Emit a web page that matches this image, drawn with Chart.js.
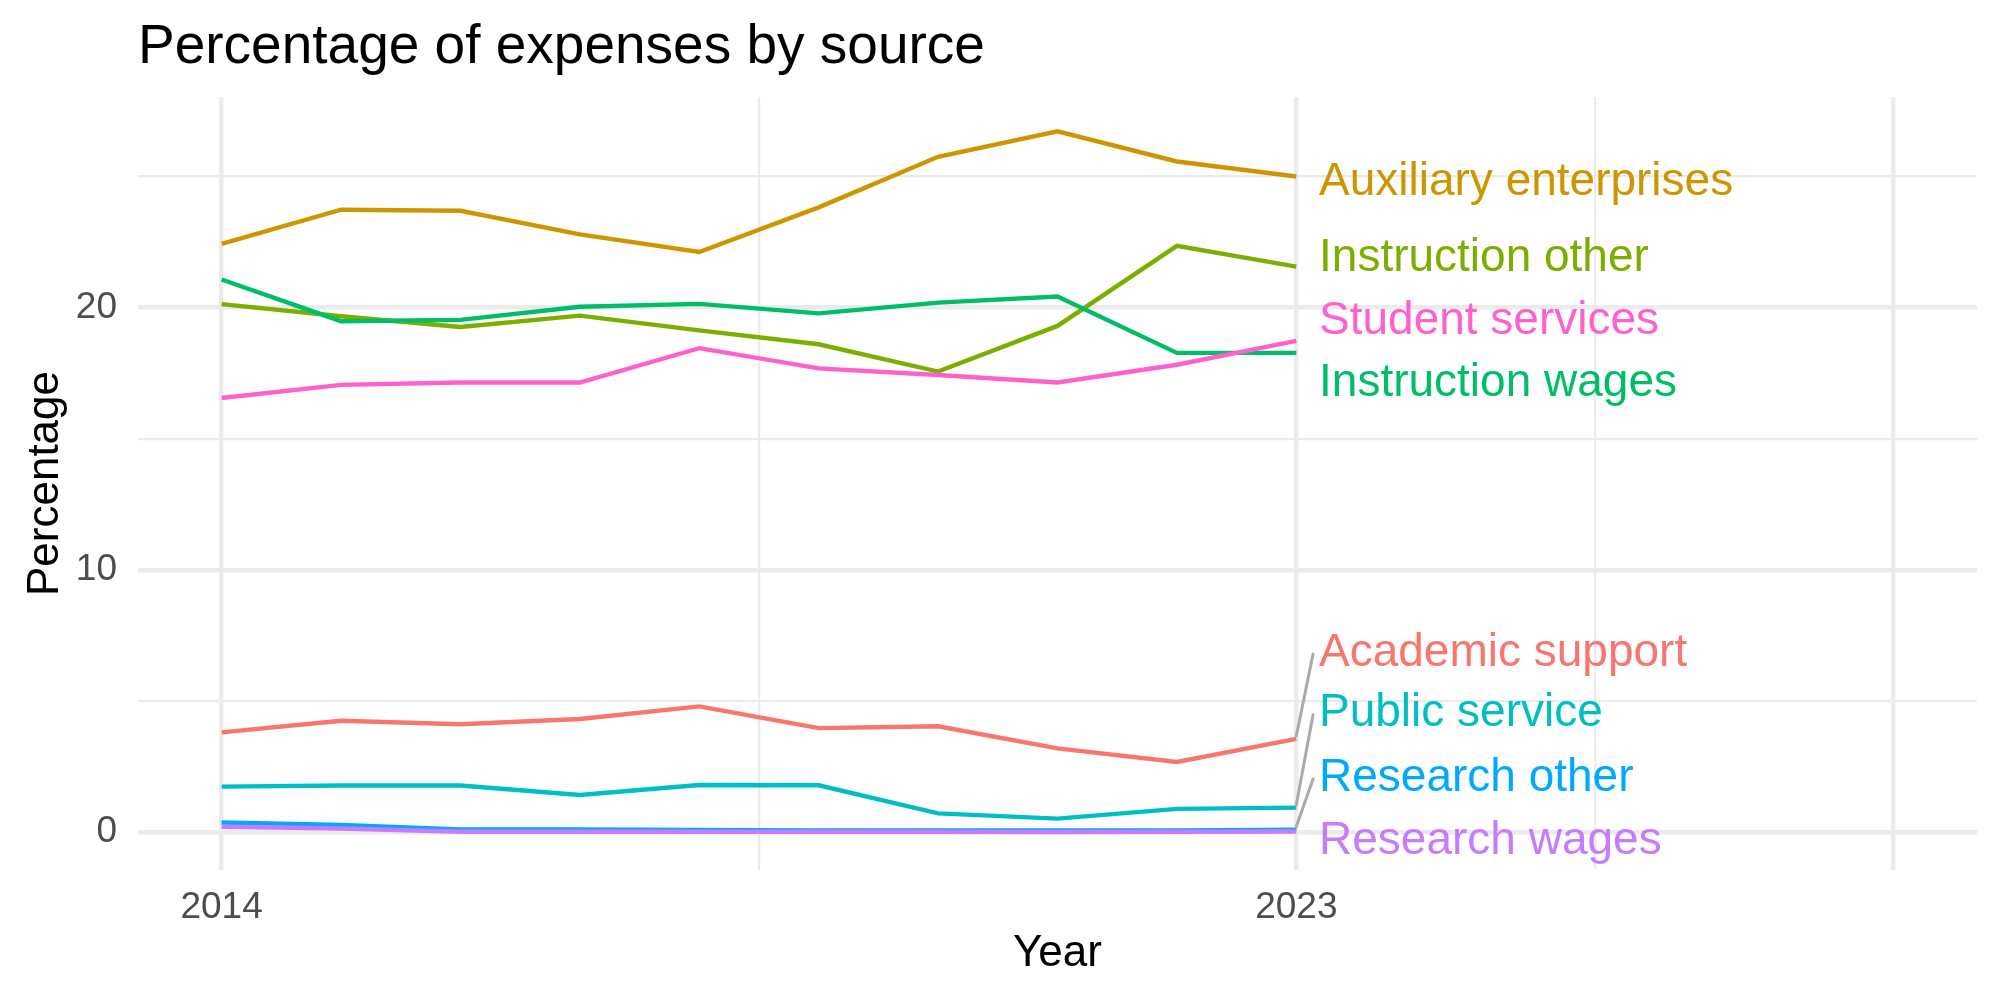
<!DOCTYPE html>
<html>
<head>
<meta charset="utf-8">
<script src="https://cdn.jsdelivr.net/npm/chart.js@4.4.1/dist/chart.umd.min.js"></script>
<style>
  html, body { margin: 0; padding: 0; background: #fff; }
  #wrap { width: 2000px; height: 1000px; }
</style>
</head>
<body>
<div id="wrap"><canvas id="chart" width="2000" height="1000"></canvas></div>
<script>
// values
const years = [2014, 2015, 2016, 2017, 2018, 2019, 2020, 2021, 2022, 2023];

const academicSupport      = [3.80, 4.24, 4.11, 4.31, 4.79, 3.96, 4.03, 3.19, 2.67, 3.55];
const auxiliaryEnterprises = [22.43, 23.73, 23.69, 22.79, 22.12, 23.82, 25.75, 26.72, 25.57, 25.00];
const instructionOther     = [20.13, 19.67, 19.26, 19.69, 19.13, 18.60, 17.56, 19.30, 22.35, 21.56];
const instructionWages     = [21.07, 19.48, 19.53, 20.03, 20.14, 19.78, 20.19, 20.42, 18.27, 18.27];
const publicService        = [1.73, 1.77, 1.77, 1.41, 1.79, 1.78, 0.71, 0.51, 0.88, 0.93];
const researchOther        = [0.36, 0.27, 0.10, 0.10, 0.08, 0.06, 0.06, 0.06, 0.06, 0.09];
const researchWages        = [0.20, 0.13, 0.01, 0.01, 0.01, 0.01, 0.01, 0.00, 0.01, 0.02];
const studentServices      = [16.55, 17.05, 17.14, 17.14, 18.45, 17.68, 17.43, 17.14, 17.82, 18.73];

const seriesNames = [
    "Academic support", "Auxiliary enterprises", "Instruction other", "Instruction wages",
    "Public service", "Research other", "Research wages", "Student services"
];
const seriesValues = [
    academicSupport, auxiliaryEnterprises, instructionOther, instructionWages,
    publicService, researchOther, researchWages, studentServices
];
// where the repelled end labels sit, in percentage units
const labelValues = [6.98, 24.94, 22.02, 17.25, 4.66, 2.21, -0.19, 19.62];

const xMajorTicks = [2014, 2023, 2028];
const xMinorTicks = [2018.5, 2025.5];
const xTickLabels = [2014, 2023];
const yMajorTicks = [0, 10, 20];
const yMinorTicks = [5, 15, 25];

const chartTitle = "Percentage of expenses by source";
const xTitle = "Year";
const yTitle = "Percentage";

const colors = ["#F8766D", "#CD9600", "#7CAE00", "#00BE67", "#00BFC4", "#00A9FF", "#C77CFF", "#FF61CC"];
const FONT = '"Liberation Sans", Arial, Helvetica, sans-serif';

// ggplot draws later groups on top, chart.js draws the first dataset on top
const datasets = seriesNames.map(function (name, i) {
    return {
        label: name,
        data: years.map(function (yr, j) { return { x: yr, y: seriesValues[i][j] }; }),
        borderColor: colors[i],
        backgroundColor: colors[i],
        borderWidth: 4.4,
        pointRadius: 0,
        tension: 0,
        fill: false,
        order: seriesNames.length - i
    };
});

const endLabels = {
    id: "endLabels",
    afterDatasetsDraw(chart) {
        const ctx = chart.ctx;
        const x = chart.scales.x;
        const y = chart.scales.y;
        const last = years.length - 1;
        const lastYear = years[last];
        const px = x.getPixelForValue(lastYear);
        const segX = x.getPixelForValue(lastYear + 0.14);
        const textX = x.getPixelForValue(lastYear + 0.19);

        ctx.save();
        // connector segments for labels pushed away from their line end
        ctx.strokeStyle = "#AAAAAA";
        ctx.lineWidth = 3;
        ctx.lineCap = "round";
        seriesNames.forEach(function (name, i) {
            const py = y.getPixelForValue(seriesValues[i][last]);
            const ly = y.getPixelForValue(labelValues[i]);
            if (Math.abs(ly - py) > 40) {
                ctx.beginPath();
                ctx.moveTo(px, py - 3);
                ctx.lineTo(segX, ly + 5);
                ctx.stroke();
            }
        });

        ctx.font = "46px " + FONT;
        ctx.textAlign = "left";
        ctx.textBaseline = "middle";
        seriesNames.forEach(function (name, i) {
            ctx.fillStyle = colors[i];
            ctx.fillText(name, textX, y.getPixelForValue(labelValues[i]) + 4);
        });

        ctx.fillStyle = "#000000";
        ctx.font = "55px " + FONT;
        ctx.textBaseline = "alphabetic";
        ctx.fillText(chartTitle, 138, 63);
        ctx.restore();
    }
};

function gridWidth(majors) {
    return function (c) {
        if (!c.tick) return 2.2;
        return majors.includes(c.tick.value) ? 4.4 : 2.2;
    };
}

new Chart(document.getElementById("chart"), {
    type: "line",
    data: { datasets: datasets },
    options: {
        responsive: false,
        devicePixelRatio: 1,
        animation: false,
        events: [],
        layout: { padding: { left: 0, right: 23, top: 97, bottom: 0 } },
        scales: {
            x: {
                type: "linear",
                min: 2013.3,
                max: 2028.7,
                afterBuildTicks: function (scale) {
                    scale.ticks = xMajorTicks.concat(xMinorTicks).sort().map(function (v) { return { value: v }; });
                },
                afterFit: function (scale) { scale.height = 130; },
                border: { display: false },
                grid: { color: "#EBEBEB", lineWidth: gridWidth(xMajorTicks), drawTicks: false },
                ticks: {
                    autoSkip: false,
                    maxRotation: 0,
                    padding: 16,
                    color: "#4D4D4D",
                    font: { family: FONT, size: 37 },
                    callback: function (value) {
                        return xTickLabels.includes(value) ? String(value) : "";
                    }
                },
                title: {
                    display: true,
                    text: xTitle,
                    color: "#000000",
                    font: { family: FONT, size: 44 },
                    padding: { top: 0, bottom: 20 }
                }
            },
            y: {
                type: "linear",
                min: -1.45,
                max: 28.03,
                afterBuildTicks: function (scale) {
                    scale.ticks = yMajorTicks.concat(yMinorTicks).sort(function (a, b) { return a - b; })
                        .map(function (v) { return { value: v }; });
                },
                afterFit: function (scale) { scale.width = 138; },
                border: { display: false },
                grid: { color: "#EBEBEB", lineWidth: gridWidth(yMajorTicks), drawTicks: false },
                ticks: {
                    autoSkip: false,
                    padding: 21,
                    color: "#4D4D4D",
                    font: { family: FONT, size: 37 },
                    callback: function (value) {
                        return yMajorTicks.includes(value) ? String(value) : "";
                    }
                },
                title: {
                    display: true,
                    text: yTitle,
                    color: "#000000",
                    font: { family: FONT, size: 44 },
                    padding: { top: 19, bottom: 0 }
                }
            }
        },
        plugins: {
            legend: { display: false },
            tooltip: { enabled: false },
            title: { display: false }
        }
    },
    plugins: [endLabels]
});
</script>
</body>
</html>
